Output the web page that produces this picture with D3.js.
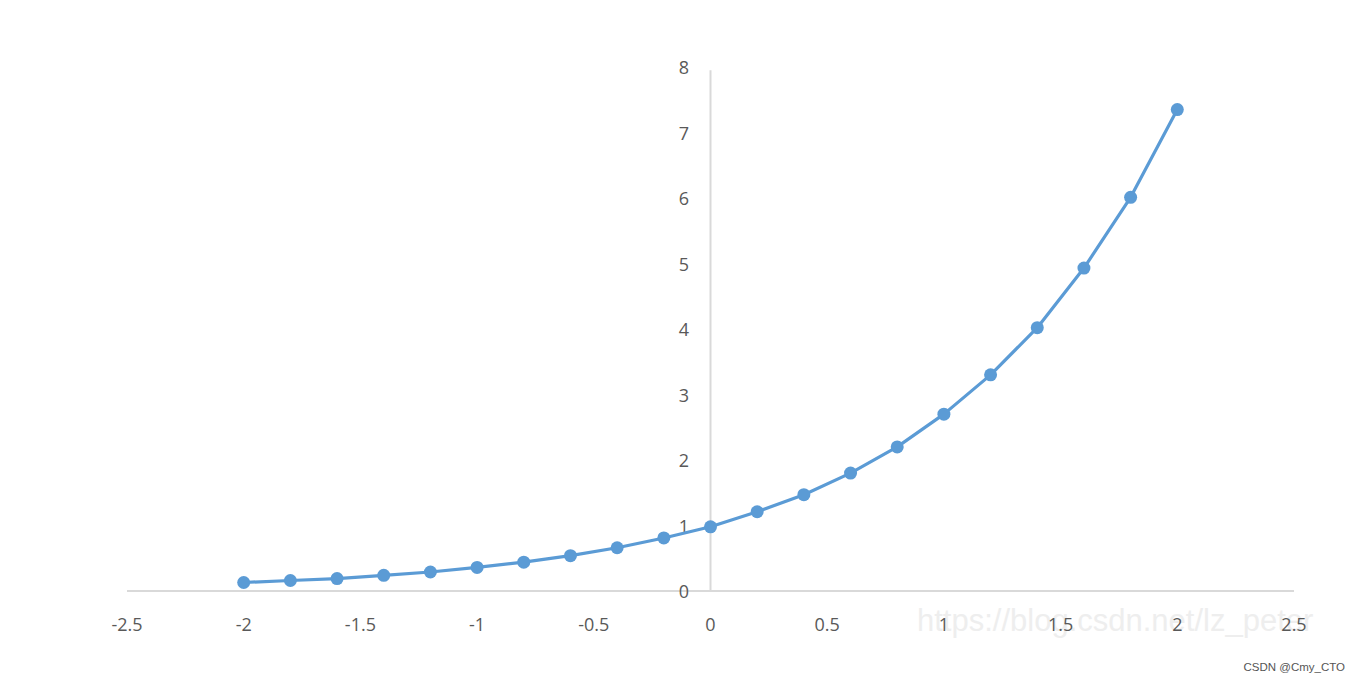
<!DOCTYPE html>
<html><head><meta charset="utf-8">
<script src="https://cdn.jsdelivr.net/npm/d3@7"></script>
<style>body{margin:0;background:#fff;}svg{display:block;}</style>
</head><body>
<svg id="c" width="1360" height="684"></svg>
<script>
const xValues = [-2,-1.8,-1.6,-1.4,-1.2,-1,-0.8,-0.6,-0.4,-0.2,0,0.2,0.4,0.6,0.8,1,1.2,1.4,1.6,1.8,2];
const yValues = [0.13,0.16,0.19,0.24,0.29,0.36,0.44,0.54,0.66,0.81,0.98,1.21,1.47,1.80,2.20,2.70,3.30,4.02,4.93,6.01,7.35];
const xTicks = [-2.5,-2,-1.5,-1,-0.5,0,0.5,1,1.5,2,2.5];
const yTicks = [0,1,2,3,4,5,6,7,8];

const svg = d3.select("#c");
const x = d3.scaleLinear().domain([-2.5,2.5]).range([127,1294]);
const y = d3.scaleLinear().domain([0,8]).range([591,67]);
const font = "'Open Sans', 'Liberation Sans', sans-serif";

svg.append("line").attr("x1",x(-2.5)).attr("x2",x(2.5)).attr("y1",y(0)).attr("y2",y(0))
  .attr("stroke","#d9d9d9").attr("stroke-width",2);
svg.append("line").attr("x1",x(0)).attr("x2",x(0)).attr("y1",y(0)).attr("y2",y(7.95))
  .attr("stroke","#d9d9d9").attr("stroke-width",2);

svg.append("text").attr("x",917).attr("y",631).text("https://blog.csdn.net/lz_peter")
  .attr("font-family","'Liberation Sans', Arial, sans-serif").attr("font-size",31)
  .attr("fill","#eeeeee");

svg.append("g").selectAll("text").data(xTicks).join("text")
  .attr("x",d=>x(d)).attr("y",631).attr("text-anchor","middle")
  .attr("font-family",font).attr("font-size",18).attr("fill","#595959")
  .text(d=>d);
svg.append("g").selectAll("text").data(yTicks).join("text")
  .attr("x",689).attr("y",d=>y(d)+7).attr("text-anchor","end")
  .attr("font-family",font).attr("font-size",18).attr("fill","#595959")
  .text(d=>d);

const data = xValues.map((v,i)=>[v,yValues[i]]);
svg.append("path").datum(data)
  .attr("d",d3.line().x(d=>x(d[0])).y(d=>y(d[1])))
  .attr("fill","none").attr("stroke","#5b9bd5").attr("stroke-width",3.2).attr("stroke-linejoin","round");
svg.append("g").selectAll("circle").data(data).join("circle")
  .attr("cx",d=>x(d[0])).attr("cy",d=>y(d[1])).attr("r",6.5).attr("fill","#5b9bd5");

svg.append("text").attr("x",1345).attr("y",671).attr("text-anchor","end")
  .attr("font-family","'Liberation Sans', Arial, sans-serif").attr("font-size",11.5)
  .attr("fill","#555").text("CSDN @Cmy_CTO");
</script>
</body></html>
